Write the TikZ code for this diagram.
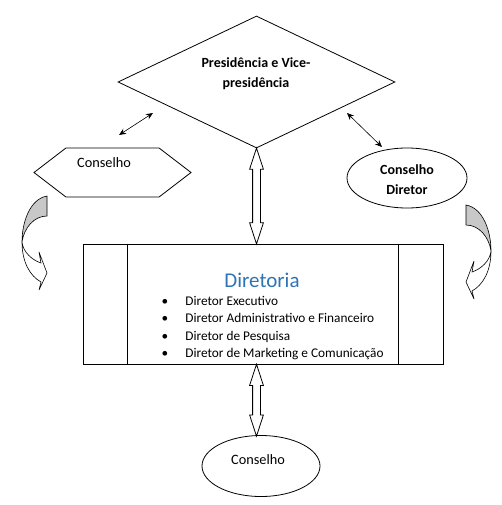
\documentclass[tikz,border=0pt]{standalone}
\usepackage{fontspec}
\setmainfont{Carlito}
\usepackage{xcolor}
\usetikzlibrary{shapes.geometric,shapes.symbols,shapes.arrows,arrows.meta,calc}
\definecolor{diretoriablue}{HTML}{2E74B5}
\definecolor{curvegray}{HTML}{C8C8C8}

\begin{document}
\begin{tikzpicture}[x=1pt,y=-1pt,line width=0.8pt,
  txt/.style={font=\fontsize{13.3}{17.5}\selectfont},
  constxt/.style={font=\fontsize{14.3}{17.5}\selectfont},
  boldtxt/.style={font=\bfseries\fontsize{14}{20}\selectfont, align=center},
  thinarrow/.style={{Stealth[length=7pt,width=6pt]}-{Stealth[length=7pt,width=6pt]}, line width=0.6pt},
  hollow/.style={double arrow, draw, fill=white, rotate=90, minimum height=#1, minimum width=13pt,
    double arrow head extend=3pt, double arrow tip angle=36, inner sep=3.5pt},
  curvedarrow/.style={draw, line width=0.6pt}]
\useasboundingbox (0,0) rectangle (501,505);
\node[draw, diamond, minimum width=277pt, minimum height=132pt, inner sep=0pt] (pres) at (256.5,82) {};
\node[boldtxt] (presTxt) at (256,74) {Presidência e Vice-\\presidência};
\node[draw, signal, signal to=west and east, signal pointer angle=75, minimum width=157pt, minimum height=49pt, inner sep=0pt] (hexCons) at (112.5,172.5) {};
\node[constxt] (hexTxt) at (104,163) {Conselho};
\node[draw, ellipse, minimum width=120pt, minimum height=60pt, inner sep=0pt] (consDir) at (407,178) {};
\node[boldtxt] (consDirTxt) at (407,180) {Conselho\\Diretor};
\node[draw, rectangle, minimum width=360pt, minimum height=120pt, inner sep=0pt] (dir) at (263,304) {};
\draw ($(dir.north west)+(45,0)$) -- ($(dir.south west)+(45,0)$);
\draw ($(dir.north east)+(-45,0)$) -- ($(dir.south east)+(-45,0)$);
\node[font=\fontsize{21}{24}\selectfont, text=diretoriablue] (dirTitle) at (262,280) {Diretoria};
\node[txt, anchor=west] (dirList) at (158,328) {\begin{tabular}{@{}l@{\hspace{17pt}}l@{}}
\textbullet & Diretor Executivo\\
\textbullet & Diretor Administrativo e Financeiro\\
\textbullet & Diretor de Pesquisa\\
\textbullet & Diretor de Marketing e Comunicação
\end{tabular}};
\node[draw, ellipse, minimum width=118pt, minimum height=61pt, inner sep=0pt] (consBaixo) at (261,466) {};
\node[constxt] (consBaixoTxt) at (258,460) {Conselho};
\coordinate (topA) at (pres.south);
\coordinate (topB) at (pres.south |- dir.north);
\coordinate (botA) at (pres.south |- dir.south);
\coordinate (botB) at (256.5,436);
\node[hollow=96pt] (arrowUp) at ($(topA)!.5!(topB)$) {};
\node[hollow=72pt] (arrowDown) at ($(botA)!.5!(botB)$) {};
\coordinate (leftA) at (153,113);
\coordinate (leftB) at (119,135);
\coordinate (rightA) at (347,113);
\coordinate (rightB) at (382,147);
\draw[thinarrow] (leftA) -- (leftB);
\draw[thinarrow] (rightA) -- (rightB);
\foreach \sx/\sy/\dir in {0/0/1, 513/9/-1}{
  \begin{scope}[shift={(\sx,\sy)}, xscale=\dir]
  \filldraw[curvedarrow, fill=curvegray] (47,196) .. controls (30,199) and (22,222) .. (22,242)
    .. controls (24,228) and (34,216) .. (47,216) -- cycle;
  \filldraw[curvedarrow, fill=white] (22,242) .. controls (22,262) and (30,276) .. (41,282)
    -- (39,290) -- (47,273) -- (39,252) -- (41,263) .. controls (32,260) and (23,252) .. (22,242) -- cycle;
  \end{scope}
}
\end{tikzpicture}
\end{document}
